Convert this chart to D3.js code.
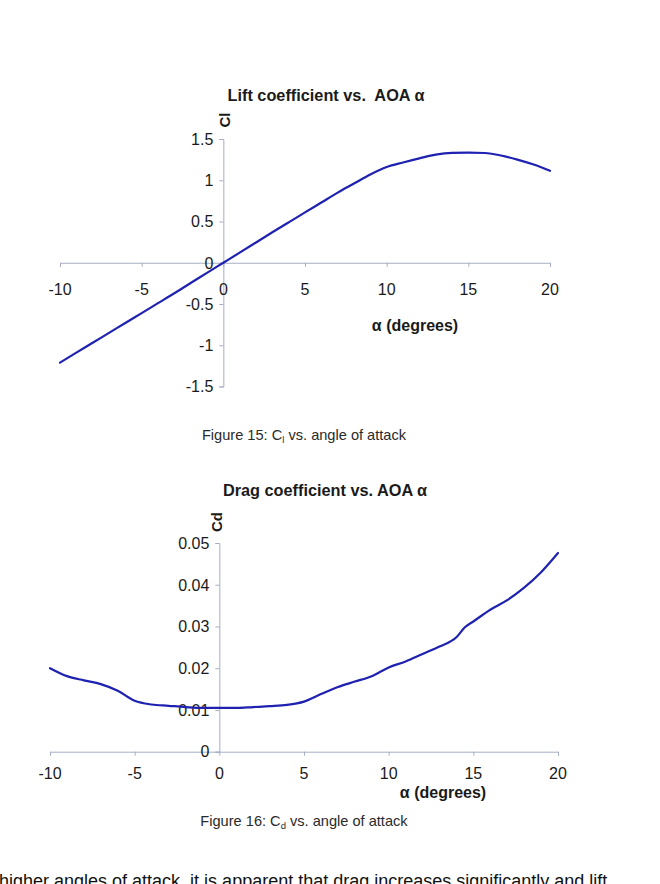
<!DOCTYPE html>
<html><head><meta charset="utf-8">
<script src="https://cdn.jsdelivr.net/npm/d3@7"></script>
<style>
html,body{margin:0;padding:0;background:#fff;}
svg{display:block;font-family:"Liberation Sans",Arial,sans-serif;}
</style></head>
<body>
<svg id="c" width="660" height="884"></svg>
<script>
// ---- data ----
const alphaCl = [-10,-9,-8,-7,-6,-5,-4,-3,-2,-1,0,1,2,3,4,5,6,7,8,9,10,11,12,13,14,15,16,17,18,19,20];
const clValues = [-1.21,-1.09,-0.97,-0.85,-0.73,-0.61,-0.49,-0.37,-0.245,-0.123,0,0.123,0.246,0.369,0.49,0.61,0.73,0.85,0.96,1.07,1.16,1.215,1.265,1.31,1.332,1.335,1.33,1.30,1.25,1.19,1.115];
const alphaCd = [-10,-9,-8,-7,-6,-5,-4,-3,-2,-1,0,1,2,3,4,5,6,7,8,9,10,11,12,13,14,14.5,15,16,17,18,19,20];
const cdValues = [0.0200,0.0181,0.0171,0.0162,0.0146,0.0122,0.0113,0.0110,0.0107,0.0105,0.0105,0.0105,0.0107,0.0109,0.0112,0.0120,0.0138,0.0155,0.0168,0.0181,0.0202,0.0216,0.0234,0.0252,0.0274,0.0298,0.0312,0.0340,0.0363,0.0393,0.0430,0.0476];
const xTicks = [-10,-5,0,5,10,15,20];
const clTicks = [-1.5,-1,-0.5,0,0.5,1,1.5];
const cdTicks = [0,0.01,0.02,0.03,0.04,0.05];
const clTickLabels = ["-1.5","-1","-0.5","0","0.5","1","1.5"];
const cdTickLabels = ["0","0.01","0.02","0.03","0.04","0.05"];
const xTickLabels = ["-10","-5","0","5","10","15","20"];

const svg = d3.select("#c");
const lineColor = "#1f22b0", axisColor = "#a6aec4", textColor = "#1a1a1a";

function drawChart(o){
  const g = svg.append("g");
  const x = d3.scaleLinear().domain([-10,20]).range(o.xRange);
  const y = d3.scaleLinear().domain(o.yDomain).range(o.yRange);
  const xa = g.append("g").attr("transform",`translate(0,${y(0)})`)
    .call(d3.axisBottom(x).tickValues(xTicks).tickSize(4).tickFormat(""));
  xa.select(".domain").attr("stroke",axisColor);
  xa.selectAll(".tick line").attr("stroke",axisColor);
  const ya = g.append("g").attr("transform",`translate(${x(0)},0)`)
    .call(d3.axisLeft(y).tickValues(o.yTicks).tickSize(4).tickSizeOuter(4).tickFormat(""));
  ya.select(".domain").attr("stroke",axisColor);
  ya.selectAll(".tick line").attr("stroke",axisColor);
  g.selectAll(".yl").data(o.yTicks).join("text")
    .attr("x", x(0)-10).attr("y", d=>y(d)).attr("dy","0.36em")
    .attr("text-anchor","end").attr("font-size",16).attr("fill",textColor)
    .text((d,i)=>o.yLabels[i]);
  g.selectAll(".xl").data(xTicks).join("text")
    .attr("x", d=>x(d)).attr("y", o.xLabelY).attr("dy","0.36em")
    .attr("text-anchor","middle").attr("font-size",16).attr("fill",textColor)
    .text((d,i)=>xTickLabels[i]);
  const pts = o.xs.map((a,i)=>[a,o.ys[i]]);
  g.append("path").datum(pts)
    .attr("fill","none").attr("stroke",lineColor).attr("stroke-width",2.2)
    .attr("stroke-linejoin","round").attr("stroke-linecap","round")
    .attr("d", d3.line().x(d=>x(d[0])).y(d=>y(d[1])).curve(d3.curveMonotoneX));
  g.append("text").attr("x",o.titleX).attr("y",o.titleY).attr("text-anchor","middle")
    .attr("font-size",16.3).attr("font-weight","bold").attr("fill",textColor)
    .attr("xml:space","preserve").style("white-space","pre").text(o.title);
  g.append("text").attr("transform",`translate(${o.ylabX},${o.ylabY}) rotate(-90)`)
    .attr("text-anchor","middle").attr("font-size",15).attr("font-weight","bold").attr("fill",textColor)
    .text(o.ylab);
  g.append("text").attr("x",o.xlabX).attr("y",o.xlabY).attr("dy","0.36em").attr("text-anchor","middle")
    .attr("font-size",16).attr("font-weight","bold").attr("fill",textColor)
    .text("α (degrees)");
  const cap = g.append("text").attr("x",304).attr("y",o.capY).attr("text-anchor","middle")
    .attr("font-size",14.6).attr("fill","#2a2a2a");
  cap.append("tspan").text(o.capPre);
  cap.append("tspan").attr("font-size",9.5).attr("dy",3).text(o.capSub);
  cap.append("tspan").attr("dy",-3).text(o.capPost);
}

drawChart({
  xRange:[60,550], yDomain:[-1.5,1.5], yRange:[386.5,139], yTicks:clTicks, yLabels:clTickLabels,
  xs:alphaCl, ys:clValues, xLabelY:289,
  title:"Lift coefficient vs.  AOA α", titleX:326, titleY:101,
  ylab:"Cl", ylabX:230, ylabY:120,
  xlabX:415, xlabY:325,
  capY:440, capPre:"Figure 15: C", capSub:"l", capPost:" vs. angle of attack"
});
drawChart({
  xRange:[50,558], yDomain:[0,0.05], yRange:[751.7,543], yTicks:cdTicks, yLabels:cdTickLabels,
  xs:alphaCd, ys:cdValues, xLabelY:773,
  title:"Drag coefficient vs. AOA α", titleX:325, titleY:496,
  ylab:"Cd", ylabX:222, ylabY:522,
  xlabX:443, xlabY:792,
  capY:826, capPre:"Figure 16: C", capSub:"d", capPost:" vs. angle of attack"
});

svg.append("text").attr("x",-1).attr("y",887).attr("font-size",18).attr("fill","#111")
  .text("higher angles of attack, it is apparent that drag increases significantly and lift");
</script>
</body></html>
